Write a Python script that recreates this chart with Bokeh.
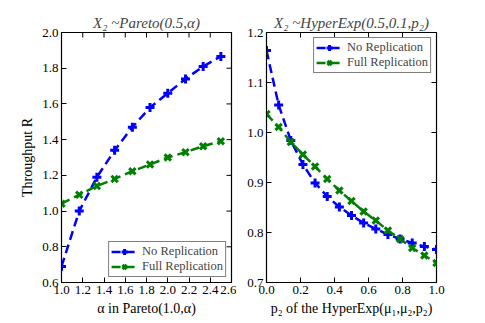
import math
from bokeh.plotting import figure
from bokeh.layouts import row
from bokeh.models import FixedTicker, PrintfTickFormatter, Range1d
from bokeh.embed import file_html
from bokeh.resources import INLINE

# ---- data ----
alpha = [1.0, 1.167, 1.333, 1.5, 1.667, 1.833, 2.0, 2.167, 2.333, 2.5]
pareto_no_rep = [0.69, 1.00, 1.19, 1.34, 1.47, 1.58, 1.66, 1.74, 1.81, 1.866]
pareto_full_rep = [1.041, 1.091, 1.14, 1.18, 1.223, 1.261, 1.30, 1.33, 1.363, 1.391]

p2 = [0.0, 0.0714, 0.1429, 0.2143, 0.2857, 0.3571, 0.4286, 0.5, 0.5714,
      0.6429, 0.7143, 0.7857, 0.8571, 0.9286, 1.0]
hyper_no_rep = [1.164, 1.055, 0.984, 0.936, 0.899, 0.872, 0.851, 0.834, 0.819,
                0.807, 0.796, 0.787, 0.779, 0.772, 0.766]
hyper_full_rep = [1.037, 1.011, 0.981, 0.956, 0.932, 0.907, 0.884, 0.863, 0.842,
                  0.824, 0.804, 0.787, 0.769, 0.754, 0.739]

left_xrange = (1.0, 2.6)
left_yrange = (0.6, 2.0)
right_xrange = (0.0, 1.0)
right_yrange = (0.7, 1.2)
left_xticks = [1.0, 1.2, 1.4, 1.6, 1.8, 2.0, 2.2, 2.4, 2.6]
left_yticks = [0.6, 0.8, 1.0, 1.2, 1.4, 1.6, 1.8, 2.0]
right_xticks = [0.0, 0.2, 0.4, 0.6, 0.8, 1.0]
right_yticks = [0.7, 0.8, 0.9, 1.0, 1.1, 1.2]

BLUE = "#0000ff"
GREEN = "#008000"
FONT = "Liberation Serif"


def style_axis(ax, ticks):
    ax.ticker = FixedTicker(ticks=ticks)
    ax.formatter = PrintfTickFormatter(format="%.1f")
    ax.major_tick_in = 5
    ax.major_tick_out = 0
    ax.minor_tick_in = 0
    ax.minor_tick_out = 0
    ax.axis_line_color = "black"
    ax.major_tick_line_color = "black"
    ax.major_label_text_font = FONT
    ax.major_label_text_color = "black"
    ax.major_label_text_font_size = "13px"
    ax.axis_label_text_font = FONT
    ax.axis_label_text_font_style = "normal"
    ax.axis_label_text_font_size = "14px"
    ax.axis_label_text_color = "black"
    ax.major_label_standoff = 3


def make_fig(title, xr, yr, xticks, yticks, xlabel, ylabel, mb_left, mb_right):
    p = figure(frame_width=170, frame_height=250, x_range=Range1d(*xr),
               y_range=Range1d(*yr), output_backend="svg", toolbar_location=None,
               min_border_left=mb_left, min_border_right=mb_right,
               min_border_top=32, min_border_bottom=8)
    p.title.text = title
    p.title.text_font = FONT
    p.title.text_font_style = "italic"
    p.title.text_font_size = "15px"
    p.title.align = "center"
    p.title.offset = 0
    p.title.standoff = 4
    p.grid.visible = False
    p.outline_line_color = "black"
    p.outline_line_alpha = 1
    p.outline_line_width = 1.2
    style_axis(p.xaxis[0], xticks)
    style_axis(p.yaxis[0], yticks)
    p.xaxis[0].axis_label = xlabel
    p.xaxis[0].axis_label_standoff = 4
    if ylabel:
        p.yaxis[0].axis_label = ylabel
        p.yaxis[0].axis_label_standoff = 4
    # inward ticks on the top and right edges (matplotlib style)
    p.ray(x=xticks, y=[yr[1]] * len(xticks), length=5, length_units="screen",
          angle=-math.pi / 2, line_color="black", line_width=1)
    p.ray(x=[xr[1]] * len(yticks), y=yticks, length=5, length_units="screen",
          angle=math.pi, line_color="black", line_width=1)
    return p


def add_series(p, x, y, color, marker, label):
    p.line(x, y, line_color=color, line_width=2.5, line_dash="9 5",
           legend_label=label)
    p.scatter(x, y, marker=marker, size=9, line_color=color,
              fill_color=color, line_width=3, legend_label=label)


def style_legend(p, loc):
    lg = p.legend[0]
    lg.location = loc
    lg.margin = 5
    lg.padding = 2
    lg.spacing = 0
    lg.label_text_font = FONT
    lg.label_text_font_size = "12.5px"
    lg.label_height = 15
    lg.glyph_height = 15
    lg.glyph_width = 26
    lg.label_standoff = 5
    lg.border_line_color = "black"
    lg.border_line_width = 1
    lg.background_fill_alpha = 1


p1 = make_fig("X\u2082 ~Pareto(0.5,\u03b1)", left_xrange, left_yrange,
              left_xticks, left_yticks, "\u03b1 in Pareto(1.0,\u03b1)",
              "Throughput R", 61, 5)
add_series(p1, alpha, pareto_no_rep, BLUE, "cross", "No Replication")
add_series(p1, alpha, pareto_full_rep, GREEN, "x", "Full Replication")
style_legend(p1, "bottom_right")

p2f = make_fig("X\u2082 ~HyperExp(0.5,0.1,p\u2082)", right_xrange, right_yrange,
               right_xticks, right_yticks,
               "p\u2082 of the HyperExp(\u03bc\u2081,\u03bc\u2082,p\u2082)",
               None, 30, 10)
add_series(p2f, p2, hyper_no_rep, BLUE, "cross", "No Replication")
add_series(p2f, p2, hyper_full_rep, GREEN, "x", "Full Replication")
style_legend(p2f, "top_right")

layout = row(p1, p2f)
open("out.html", "w").write(file_html(layout, INLINE))
